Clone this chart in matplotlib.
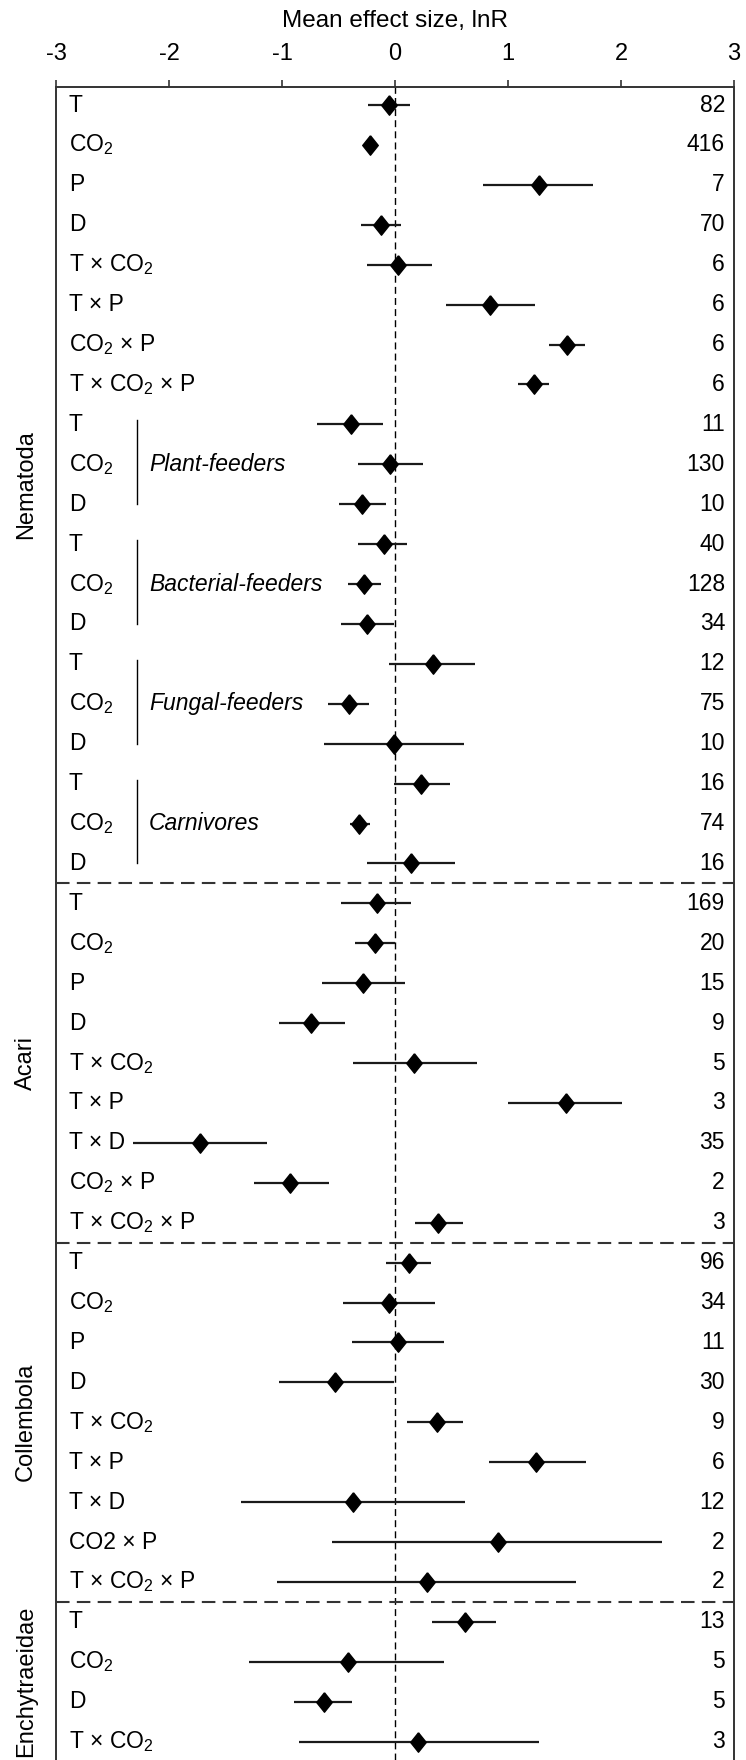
import numpy as np
import matplotlib
matplotlib.use("Agg")
import matplotlib.pyplot as plt
import matplotlib.transforms as mtrans

plt.rcParams["font.family"] = ["Liberation Sans", "DejaVu Sans"]
plt.rcParams["mathtext.fontset"] = "custom"
plt.rcParams["mathtext.rm"] = "Liberation Sans"
plt.rcParams["mathtext.it"] = "Liberation Sans:italic"
plt.rcParams["axes.unicode_minus"] = False

# ---- data ----
labels = ["T", "CO$_2$", "P", "D", "T × CO$_2$", "T × P", "CO$_2$ × P", "T × CO$_2$ × P",
          "T", "CO$_2$", "D", "T", "CO$_2$", "D", "T", "CO$_2$", "D", "T", "CO$_2$", "D",
          "T", "CO$_2$", "P", "D", "T × CO$_2$", "T × P", "T × D", "CO$_2$ × P", "T × CO$_2$ × P",
          "T", "CO$_2$", "P", "D", "T × CO$_2$", "T × P", "T × D", "CO2 × P", "T × CO$_2$ × P",
          "T", "CO$_2$", "D", "T × CO$_2$"]
mean = [-0.05, -0.22, 1.27, -0.12, 0.03, 0.84, 1.52, 1.23,
        -0.39, -0.04, -0.29, -0.10, -0.27, -0.25, 0.34, -0.41, -0.01, 0.23, -0.32, 0.14,
        -0.16, -0.18, -0.28, -0.74, 0.17, 1.51, -1.73, -0.93, 0.38,
        0.12, -0.05, 0.03, -0.53, 0.37, 1.25, -0.37, 0.91, 0.28,
        0.62, -0.42, -0.63, 0.20]
lower = [-0.24, -0.27, 0.78, -0.30, -0.25, 0.45, 1.36, 1.09,
         -0.69, -0.33, -0.50, -0.33, -0.42, -0.48, -0.05, -0.59, -0.63, -0.01, -0.40, -0.25,
         -0.48, -0.35, -0.65, -1.03, -0.37, 1.00, -2.32, -1.25, 0.18,
         -0.08, -0.46, -0.38, -1.03, 0.11, 0.83, -1.36, -0.56, -1.04,
         0.33, -1.29, -0.89, -0.85]
upper = [0.13, -0.17, 1.75, 0.05, 0.33, 1.24, 1.68, 1.36,
         -0.11, 0.25, -0.08, 0.11, -0.12, -0.01, 0.71, -0.23, 0.61, 0.49, -0.22, 0.53,
         0.14, 0.00, 0.09, -0.44, 0.73, 2.01, -1.13, -0.58, 0.60,
         0.32, 0.35, 0.43, -0.01, 0.60, 1.69, 0.62, 2.36, 1.60,
         0.89, 0.43, -0.38, 1.27]
n_obs = [82, 416, 7, 70, 6, 6, 6, 6,
         11, 130, 10, 40, 128, 34, 12, 75, 10, 16, 74, 16,
         169, 20, 15, 9, 5, 3, 35, 2, 3,
         96, 34, 11, 30, 9, 6, 12, 2, 2,
         13, 5, 5, 3]
groups = ["Nematoda", "Acari", "Collembola", "Enchytraeidae"]
group_sizes = [20, 9, 9, 4]
subgroups = ["Plant-feeders", "Bacterial-feeders", "Fungal-feeders", "Carnivores"]
subgroup_start = [8, 11, 14, 17]

W, H = 746, 1760
fig = plt.figure(figsize=(W / 100, H / 100), dpi=100)
ax = fig.add_axes([56 / W, 0, 678 / W, 1 - 86.7 / H])

y = np.arange(len(labels))
fs = 16.5

ax.axvline(0, color="black", lw=1.0, ls=(0, (5, 3)), zorder=1)
ax.hlines(y, lower, upper, color="#1a1a1a", lw=1.6, zorder=2)
diamond = [(0, 1), (0.8, 0), (0, -1), (-0.8, 0), (0, 1)]
ax.plot(mean, y, ls="none", marker=diamond, ms=14, color="black", zorder=3)

blend = mtrans.blended_transform_factory(ax.transAxes, ax.transData)
for yi, lab, n in zip(y, labels, n_obs):
    ax.text(0.019, yi, lab, transform=blend, ha="left", va="center", fontsize=fs)
    ax.text(0.9867, yi, str(n), transform=blend, ha="right", va="center", fontsize=fs)

for name, s in zip(subgroups, subgroup_start):
    ax.plot([0.119, 0.119], [s - 0.1, s + 2], transform=blend, color="black", lw=1.0, clip_on=False)
    ax.text(0.137, s + 1, name, transform=blend, ha="left", va="center", fontsize=fs, style="italic")

start = 0
for name, size in zip(groups, group_sizes):
    ax.text(-0.044, start + (size - 1) / 2, name, transform=blend, rotation=90,
            ha="center", va="center", fontsize=17)
    if start > 0:
        ax.axhline(start - 0.5, color="#333333", lw=1.5, ls=(0, (6.5, 3.5)))
    start += size

ax.set_xlim(-3, 3)
ax.set_ylim(41.46, -0.46)
ax.set_yticks([])
ax.xaxis.tick_top()
ax.xaxis.set_label_position("top")
ax.set_xticks([-3, -2, -1, 0, 1, 2, 3])
ax.tick_params(axis="x", direction="out", length=5, width=1.2, labelsize=17, pad=10.5,
               color="#333333")
ax.set_xlabel("Mean effect size, lnR", fontsize=17.5, labelpad=12)
for side in ["top", "left", "right"]:
    ax.spines[side].set_linewidth(1.4)
    ax.spines[side].set_color("#333333")
ax.spines["bottom"].set_visible(False)

fig.savefig("out.png", dpi=100)
